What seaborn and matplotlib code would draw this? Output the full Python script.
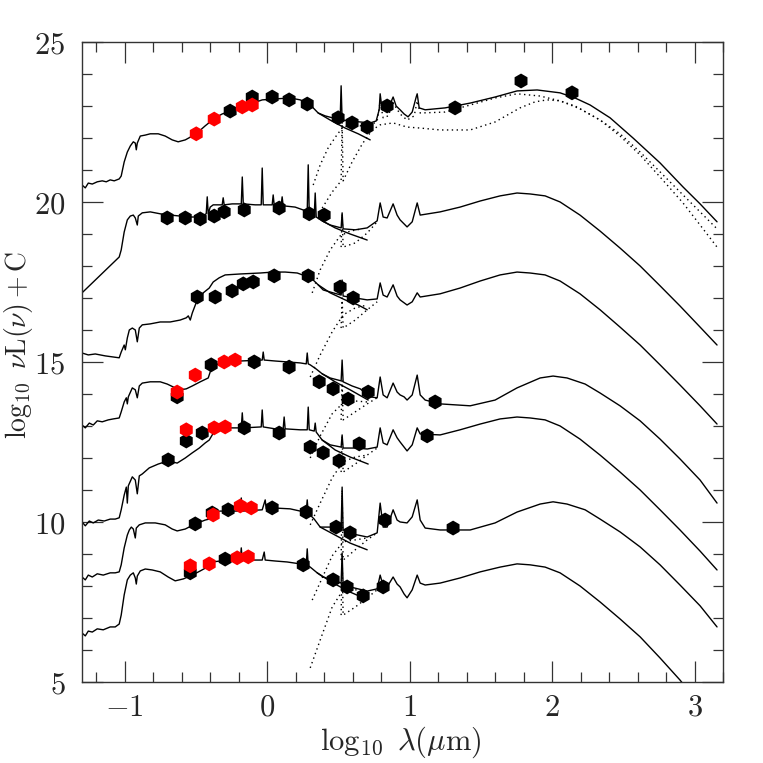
import matplotlib
matplotlib.use('Agg')
import matplotlib.pyplot as plt
from matplotlib.ticker import MultipleLocator
import seaborn as sns

# --- SED A (top) ---
a_lam = [-1.30, -1.277, -1.256, -1.228, -1.193, -1.158, -1.130, -1.102, -1.074, -1.039,
         -1.025, -1.004, -0.982, -0.961, -0.940, -0.926, -0.919, -0.912, -0.891, -0.856,
         -0.821, -0.765, -0.716, -0.667, -0.625, -0.575, -0.526, -0.491, -0.435, -0.365,
         -0.316, -0.260, -0.189, -0.119, -0.035, 0.056, 0.161, 0.232, 0.281, 0.323,
         0.358, 0.407, 0.491, 0.512, 0.519, 0.526, 0.582, 0.653, 0.723, 0.765,
         0.786, 0.793, 0.807, 0.835, 0.863, 0.884, 0.905, 0.933, 0.961, 0.989,
         1.018, 1.046, 1.053, 1.067, 1.109, 1.249, 1.425, 1.600, 1.754, 1.895,
         2.056, 2.161, 2.267, 2.407, 2.568, 2.758, 2.919, 3.039, 3.158]
a_sed = [20.53, 20.44, 20.59, 20.56, 20.63, 20.66, 20.63, 20.69, 20.66, 20.72,
         20.81, 21.25, 21.56, 21.75, 21.88, 21.84, 21.63, 21.84, 22.06, 22.09,
         22.13, 22.13, 22.06, 21.94, 21.88, 21.94, 22.06, 22.16, 22.38, 22.63,
         22.75, 22.84, 22.97, 23.06, 23.19, 23.22, 23.25, 23.19, 23.09, 22.94,
         22.78, 22.69, 22.59, 22.56, 23.63, 22.56, 22.53, 22.50, 22.47, 22.53,
         22.88, 23.38, 22.88, 22.88, 23.06, 23.28, 23.00, 22.88, 22.75, 22.66,
         22.81, 23.28, 23.38, 22.94, 22.88, 22.94, 23.09, 23.28, 23.47, 23.50,
         23.41, 23.25, 23.03, 22.63, 22.00, 21.22, 20.47, 19.94, 19.38]
a_star_lam = [0.358, 0.442, 0.547, 0.639, 0.723]
a_star = [22.78, 22.56, 22.31, 22.13, 21.94]
a_dust1_lam = [0.323, 0.372, 0.428, 0.484, 0.526, 0.582, 0.653, 0.723, 0.772, 0.793,
               0.814, 0.849, 0.884, 0.933, 0.982, 1.032, 1.053, 1.074, 1.249, 1.425,
               1.600, 1.754, 1.916, 2.056, 2.196, 2.337, 2.477, 2.618, 2.758, 2.919,
               3.039, 3.158]
a_dust1 = [20.53, 21.16, 21.69, 22.06, 22.31, 22.41, 22.38, 22.38, 22.53, 23.13,
           22.63, 22.69, 23.09, 22.75, 22.56, 22.69, 23.16, 22.78, 22.81, 23.03,
           23.25, 23.38, 23.31, 23.16, 22.91, 22.56, 22.13, 21.56, 20.94, 20.22,
           19.69, 19.16]
a_dust2_lam = [0.386, 0.456, 0.519, 0.526, 0.533, 0.596, 0.667, 0.737, 0.793, 0.884,
               0.982, 1.074, 1.214, 1.425, 1.600, 1.775, 1.881, 1.965, 2.056, 2.161,
               2.337, 2.477, 2.618, 2.758, 2.919, 3.039, 3.158]
a_dust2 = [19.81, 20.31, 20.66, 22.50, 20.66, 21.25, 21.81, 22.25, 22.41, 22.47,
           22.34, 22.31, 22.25, 22.25, 22.50, 22.94, 23.13, 23.19, 23.16, 23.00,
           22.56, 22.06, 21.47, 20.78, 19.97, 19.28, 18.59]
a_obs_lam = [-0.260, -0.105, 0.035, 0.154, 0.281, 0.498, 0.596, 0.702, 0.842, 1.319, 1.782, 2.140]
a_obs = [22.84, 23.28, 23.28, 23.19, 23.06, 22.63, 22.47, 22.34, 23.00, 22.94, 23.78, 23.41]
a_red_lam = [-0.498, -0.372, -0.175, -0.105]
a_red = [22.13, 22.59, 22.97, 23.03]

# --- SED B ---
b_lam = [-1.300, -1.039, -1.025, -1.004, -0.982, -0.961, -0.940, -0.926, -0.912, -0.905,
         -0.877, -0.821, -0.751, -0.681, -0.611, -0.540, -0.470, -0.428, -0.421, -0.414,
         -0.400, -0.379, -0.316, -0.309, -0.302, -0.246, -0.182, -0.175, -0.168, -0.084,
         -0.042, -0.035, -0.028, 0.035, 0.042, 0.049, 0.098, 0.105, 0.112, 0.196,
         0.253, 0.281, 0.288, 0.295, 0.330, 0.337, 0.344, 0.386, 0.442, 0.519,
         0.526, 0.533, 0.618, 0.702, 0.772, 0.793, 0.814, 0.842, 0.884, 0.912,
         0.933, 0.982, 1.018, 1.053, 1.074, 1.214, 1.354, 1.495, 1.635, 1.754,
         1.846, 1.951, 2.056, 2.196, 2.337, 2.477, 2.618, 2.758, 2.898, 3.039,
         3.158]
b_sed = [17.16, 18.28, 18.50, 19.06, 19.44, 19.56, 19.59, 19.50, 19.28, 19.56,
         19.66, 19.69, 19.63, 19.59, 19.56, 19.53, 19.53, 19.63, 20.16, 19.63,
         19.84, 19.91, 19.91, 20.13, 19.91, 19.94, 19.94, 20.78, 19.94, 19.91,
         19.91, 21.06, 19.91, 19.91, 20.22, 19.91, 19.91, 20.16, 19.88, 19.84,
         19.75, 19.72, 21.16, 19.69, 19.56, 20.28, 19.53, 19.41, 19.28, 19.19,
         19.66, 19.16, 19.13, 19.19, 19.41, 19.97, 19.53, 19.50, 19.94, 19.59,
         19.44, 19.22, 19.38, 19.97, 19.59, 19.69, 19.84, 20.03, 20.19, 20.28,
         20.25, 20.19, 20.00, 19.59, 19.09, 18.56, 18.00, 17.38, 16.75, 16.09,
         15.53]
b_star_lam = [0.386, 0.477, 0.582, 0.702]
b_star = [19.41, 19.19, 19.00, 18.81]
b_dust1_lam = [0.316, 0.372, 0.442, 0.512, 0.582, 0.667]
b_dust1 = [17.16, 17.88, 18.50, 18.94, 19.09, 19.16]
b_dust2_lam = [0.519, 0.526, 0.533, 0.618, 0.702, 0.772]
b_dust2 = [18.59, 19.63, 18.59, 18.72, 19.03, 19.38]
b_obs_lam = [-0.702, -0.575, -0.470, -0.372, -0.302, -0.161, 0.084, 0.295, 0.400]
b_obs = [19.50, 19.50, 19.47, 19.56, 19.69, 19.75, 19.81, 19.63, 19.59]

# --- SED C ---
c_lam = [-1.300, -1.256, -1.207, -1.137, -1.088, -1.039, -1.025, -1.004, -0.996, -0.982,
         -0.968, -0.947, -0.926, -0.912, -0.898, -0.877, -0.821, -0.751, -0.681, -0.611,
         -0.568, -0.554, -0.540, -0.526, -0.491, -0.449, -0.407, -0.379, -0.337, -0.295,
         -0.189, -0.049, 0.042, 0.126, 0.211, 0.267, 0.323, 0.358, 0.393, 0.463,
         0.519, 0.526, 0.533, 0.618, 0.702, 0.772, 0.793, 0.814, 0.842, 0.884,
         0.912, 0.933, 0.982, 1.018, 1.053, 1.074, 1.214, 1.354, 1.495, 1.635,
         1.754, 1.846, 1.951, 2.056, 2.196, 2.337, 2.477, 2.618, 2.758, 2.898,
         3.039, 3.158]
c_sed = [15.28, 15.22, 15.25, 15.19, 15.16, 15.13, 15.31, 15.53, 15.38, 15.75,
         16.00, 16.06, 16.00, 15.63, 16.06, 16.16, 16.19, 16.25, 16.25, 16.31,
         16.38, 16.44, 16.31, 16.53, 16.94, 17.16, 17.31, 17.50, 17.63, 17.72,
         17.75, 17.78, 17.81, 17.81, 17.78, 17.69, 17.56, 17.41, 17.25, 17.16,
         17.09, 17.56, 17.06, 17.00, 16.94, 16.97, 17.47, 17.09, 17.03, 17.41,
         17.06, 16.94, 16.78, 16.88, 17.16, 17.03, 17.13, 17.31, 17.53, 17.72,
         17.81, 17.78, 17.72, 17.53, 17.13, 16.63, 16.09, 15.53, 14.91, 14.28,
         13.63, 13.06]
c_star_lam = [0.358, 0.442, 0.547, 0.639, 0.702]
c_star = [17.41, 17.16, 16.94, 16.78, 16.63]
c_dust1_lam = [0.302, 0.372, 0.456, 0.533, 0.618, 0.702]
c_dust1 = [14.53, 15.22, 15.94, 16.47, 16.69, 16.78]
c_dust2_lam = [0.519, 0.526, 0.533, 0.618, 0.702, 0.772]
c_dust2 = [16.06, 17.00, 16.06, 16.31, 16.63, 16.88]
c_obs_lam = [-0.491, -0.365, -0.246, -0.168, -0.098, 0.049, 0.288, 0.512, 0.604]
c_obs = [17.03, 17.03, 17.22, 17.44, 17.50, 17.69, 17.69, 17.34, 17.00]

# --- SED D ---
d_lam = [-1.300, -1.277, -1.249, -1.221, -1.193, -1.158, -1.116, -1.081, -1.039, -1.025,
         -1.004, -0.989, -0.982, -0.975, -0.947, -0.926, -0.912, -0.898, -0.877, -0.821,
         -0.751, -0.702, -0.646, -0.611, -0.568, -0.526, -0.470, -0.414, -0.400, -0.386,
         -0.344, -0.295, -0.189, -0.035, -0.028, -0.021, 0.056, 0.232, 0.274, 0.281,
         0.288, 0.302, 0.344, 0.386, 0.442, 0.519, 0.526, 0.533, 0.596, 0.653,
         0.723, 0.772, 0.793, 0.814, 0.842, 0.884, 0.912, 0.933, 0.961, 0.982,
         1.018, 1.053, 1.074, 1.109, 1.214, 1.425, 1.600, 1.754, 1.916, 2.007,
         2.105, 2.232, 2.337, 2.477, 2.618, 2.758, 2.898, 3.039, 3.158]
d_sed = [13.03, 12.94, 13.09, 13.03, 13.16, 13.13, 13.19, 13.22, 13.25, 13.44,
         13.75, 13.88, 13.69, 13.91, 14.19, 14.13, 13.88, 14.25, 14.34, 14.38,
         14.38, 14.31, 14.19, 14.13, 14.16, 14.25, 14.38, 14.50, 14.69, 14.84,
         14.94, 15.00, 15.03, 15.06, 15.31, 15.06, 15.03, 14.97, 14.94, 15.28,
         14.94, 14.91, 14.78, 14.63, 14.50, 14.41, 15.06, 14.38, 14.25, 14.16,
         13.91, 13.88, 14.53, 13.97, 13.88, 14.34, 14.06, 13.97, 13.91, 13.81,
         13.97, 14.59, 13.97, 13.81, 13.69, 13.63, 13.81, 14.19, 14.50, 14.56,
         14.50, 14.31, 14.03, 13.63, 13.16, 12.59, 11.97, 11.31, 10.59]
d_star_lam = [0.386, 0.477, 0.582, 0.709]
d_star = [14.63, 14.38, 14.13, 13.81]
d_dust1_lam = [0.302, 0.372, 0.456, 0.533, 0.618, 0.702]
d_dust1 = [12.00, 12.69, 13.38, 13.72, 13.78, 13.75]
d_dust2_lam = [0.519, 0.526, 0.533, 0.618, 0.702, 0.772]
d_dust2 = [13.19, 14.41, 13.19, 13.44, 13.69, 13.88]
d_obs_lam = [-0.632, -0.393, -0.091, 0.154, 0.365, 0.463, 0.568, 0.709, 1.179]
d_obs = [13.91, 14.91, 15.00, 14.84, 14.38, 14.16, 13.84, 14.06, 13.75]
d_red_lam = [-0.632, -0.505, -0.302, -0.225]
d_red = [14.06, 14.59, 15.00, 15.06]

# --- SED E ---
e_lam = [-1.300, -1.277, -1.249, -1.221, -1.186, -1.144, -1.102, -1.067, -1.039, -1.025,
         -1.004, -0.989, -0.982, -0.975, -0.947, -0.926, -0.912, -0.898, -0.877, -0.828,
         -0.765, -0.716, -0.667, -0.632, -0.575, -0.526, -0.477, -0.435, -0.407, -0.386,
         -0.365, -0.295, -0.182, -0.175, -0.168, -0.042, -0.035, -0.028, 0.056, 0.112,
         0.119, 0.126, 0.232, 0.281, 0.288, 0.295, 0.330, 0.337, 0.344, 0.386,
         0.442, 0.519, 0.526, 0.533, 0.632, 0.702, 0.772, 0.793, 0.814, 0.842,
         0.884, 0.912, 0.933, 0.961, 0.982, 1.018, 1.053, 1.074, 1.214, 1.354,
         1.495, 1.635, 1.754, 1.846, 1.951, 2.056, 2.196, 2.337, 2.477, 2.618,
         2.758, 2.898, 3.039, 3.158]
e_sed = [10.00, 9.88, 10.03, 9.97, 10.06, 10.03, 10.09, 10.09, 10.13, 10.38,
         10.84, 11.09, 10.59, 11.13, 11.41, 11.31, 10.88, 11.44, 11.50, 11.69,
         11.81, 11.88, 11.88, 11.84, 12.00, 12.16, 12.31, 12.47, 12.56, 12.72,
         12.88, 12.94, 12.94, 13.41, 12.94, 12.97, 13.50, 12.97, 12.91, 12.91,
         13.28, 12.91, 12.88, 12.88, 13.59, 12.88, 12.84, 13.09, 12.81, 12.56,
         12.41, 12.34, 12.72, 12.31, 12.31, 12.28, 12.34, 12.94, 12.47, 12.41,
         12.88, 12.63, 12.50, 12.34, 12.22, 12.41, 12.94, 12.75, 12.72, 12.88,
         13.06, 13.22, 13.28, 13.25, 13.19, 13.00, 12.59, 12.09, 11.56, 11.00,
         10.38, 9.75, 9.09, 8.50]
e_star_lam = [0.386, 0.477, 0.582, 0.709]
e_star = [12.56, 12.25, 12.03, 11.81]
e_dust1_lam = [0.302, 0.372, 0.456, 0.533, 0.618, 0.702]
e_dust1 = [9.91, 10.59, 11.38, 11.88, 12.03, 12.09]
e_dust2_lam = [0.519, 0.526, 0.533, 0.618, 0.702, 0.772]
e_dust2 = [11.56, 12.69, 11.56, 11.81, 12.09, 12.31]
e_obs_lam = [-0.695, -0.568, -0.456, -0.161, 0.084, 0.302, 0.393, 0.505, 0.646, 1.123]
e_obs = [11.94, 12.53, 12.78, 12.94, 12.78, 12.34, 12.16, 11.91, 12.44, 12.69]
e_red_lam = [-0.568, -0.372, -0.295]
e_red = [12.88, 12.94, 12.97]

# --- SED F ---
f_lam = [-1.300, -1.277, -1.256, -1.228, -1.193, -1.151, -1.102, -1.067, -1.039, -1.025,
         -1.004, -0.982, -0.968, -0.954, -0.940, -0.926, -0.919, -0.898, -0.856, -0.786,
         -0.716, -0.667, -0.632, -0.575, -0.505, -0.435, -0.407, -0.386, -0.330, -0.246,
         -0.189, -0.182, -0.175, -0.035, -0.014, -0.007, 0.035, 0.161, 0.232, 0.274,
         0.281, 0.288, 0.330, 0.372, 0.442, 0.519, 0.526, 0.533, 0.596, 0.702,
         0.772, 0.793, 0.814, 0.842, 0.884, 0.912, 0.933, 0.982, 1.018, 1.053,
         1.074, 1.109, 1.214, 1.425, 1.600, 1.754, 1.916, 2.007, 2.105, 2.232,
         2.337, 2.477, 2.618, 2.758, 2.898, 3.039, 3.158]
f_sed = [8.28, 8.19, 8.34, 8.28, 8.38, 8.34, 8.41, 8.41, 8.44, 8.66,
         9.19, 9.59, 9.75, 9.84, 9.78, 9.50, 9.81, 9.91, 9.97, 9.97,
         9.91, 9.78, 9.72, 9.78, 9.94, 10.06, 10.09, 10.31, 10.34, 10.34,
         10.34, 10.75, 10.34, 10.38, 10.69, 10.41, 10.44, 10.41, 10.34, 10.31,
         10.69, 10.28, 10.09, 9.84, 9.84, 9.78, 11.09, 9.75, 9.63, 9.53,
         9.66, 10.59, 9.84, 9.84, 10.38, 10.06, 10.00, 9.97, 10.16, 10.69,
         10.06, 9.81, 9.75, 9.75, 9.97, 10.31, 10.56, 10.63, 10.56, 10.38,
         10.09, 9.69, 9.22, 8.66, 8.03, 7.38, 6.72]
f_star_lam = [0.372, 0.477, 0.582, 0.702]
f_star = [9.84, 9.59, 9.34, 9.13]
f_dust1_lam = [0.316, 0.386, 0.456, 0.533, 0.618, 0.702]
f_dust1 = [7.56, 8.25, 8.94, 9.38, 9.44, 9.50]
f_dust2_lam = [0.519, 0.526, 0.533, 0.618, 0.702, 0.772]
f_dust2 = [8.81, 11.00, 8.81, 9.13, 9.44, 9.66]
f_obs_lam = [-0.505, -0.386, -0.274, 0.035, 0.274, 0.484, 0.582, 0.828, 1.305]
f_obs = [9.94, 10.28, 10.38, 10.44, 10.31, 9.84, 9.66, 10.06, 9.81]
f_red_lam = [-0.379, -0.189, -0.112]
f_red = [10.22, 10.50, 10.44]

# --- SED G (bottom) ---
g_lam = [-1.300, -1.277, -1.256, -1.228, -1.193, -1.151, -1.102, -1.067, -1.039, -1.025,
         -1.004, -0.982, -0.961, -0.940, -0.926, -0.919, -0.912, -0.891, -0.856, -0.807,
         -0.751, -0.695, -0.646, -0.589, -0.526, -0.470, -0.421, -0.407, -0.386, -0.330,
         -0.189, -0.182, -0.175, -0.035, -0.021, -0.014, 0.056, 0.140, 0.232, 0.274,
         0.281, 0.288, 0.302, 0.351, 0.393, 0.463, 0.519, 0.526, 0.533, 0.582,
         0.702, 0.772, 0.793, 0.814, 0.842, 0.884, 0.912, 0.933, 0.961, 0.982,
         1.018, 1.053, 1.074, 1.109, 1.214, 1.354, 1.495, 1.635, 1.754, 1.846,
         1.951, 2.056, 2.196, 2.337, 2.477, 2.618, 2.758, 2.898, 3.039, 3.158]
g_sed = [6.53, 6.44, 6.59, 6.56, 6.66, 6.63, 6.72, 6.72, 6.81, 7.09,
         7.72, 8.19, 8.34, 8.41, 8.25, 8.06, 8.31, 8.47, 8.53, 8.50,
         8.44, 8.28, 8.16, 8.22, 8.34, 8.47, 8.59, 8.66, 8.75, 8.78,
         8.81, 9.19, 8.81, 8.81, 9.06, 8.81, 8.78, 8.75, 8.69, 8.66,
         9.16, 8.63, 8.59, 8.41, 8.28, 8.19, 8.09, 9.03, 8.03, 7.97,
         7.84, 7.91, 8.34, 8.00, 7.97, 8.28, 8.06, 7.97, 7.75, 7.63,
         7.88, 8.34, 8.09, 8.03, 8.09, 8.25, 8.44, 8.59, 8.69, 8.66,
         8.59, 8.41, 8.00, 7.50, 6.97, 6.41, 5.75, 5.06, 4.28, 3.63]
g_star_lam = [0.351, 0.463, 0.582, 0.674]
g_star = [8.41, 8.09, 7.81, 7.63]
g_dust1_lam = [0.302, 0.372, 0.456, 0.533, 0.618, 0.702]
g_dust1 = [5.44, 6.31, 7.34, 7.88, 7.88, 7.84]
g_dust2_lam = [0.519, 0.526, 0.533, 0.618, 0.702, 0.772]
g_dust2 = [7.09, 8.97, 7.09, 7.34, 7.63, 7.88]
g_obs_lam = [-0.540, -0.295, 0.253, 0.463, 0.561, 0.674, 0.814]
g_obs = [8.41, 8.84, 8.66, 8.19, 7.97, 7.69, 7.97]
g_red_lam = [-0.540, -0.407, -0.211, -0.133]
g_red = [8.63, 8.69, 8.88, 8.91]

x_ticks = [-1, 0, 1, 2, 3]
x_ticklabels = [r'$-1$', r'$0$', r'$1$', r'$2$', r'$3$']
y_ticks = [5, 10, 15, 20, 25]
y_ticklabels = [r'$5$', r'$10$', r'$15$', r'$20$', r'$25$']

sns.set_style('ticks')
plt.rcParams['font.family'] = ['DejaVu Serif']
plt.rcParams['mathtext.fontset'] = 'cm'

fig = plt.figure(figsize=(7.63, 7.63), dpi=100)
ax = fig.add_axes([0.1075, 0.1062, 0.8401, 0.8388])

solid_lines = [(a_lam, a_sed), (a_star_lam, a_star),
               (b_lam, b_sed), (b_star_lam, b_star),
               (c_lam, c_sed), (c_star_lam, c_star),
               (d_lam, d_sed), (d_star_lam, d_star),
               (e_lam, e_sed), (e_star_lam, e_star),
               (f_lam, f_sed), (f_star_lam, f_star),
               (g_lam, g_sed), (g_star_lam, g_star)]
for lam, sed in solid_lines:
    sns.lineplot(x=lam, y=sed, ax=ax, color='black', lw=1.0,
                 sort=False, estimator=None)

dotted_lines = [(a_dust1_lam, a_dust1), (a_dust2_lam, a_dust2),
                (b_dust1_lam, b_dust1), (b_dust2_lam, b_dust2),
                (c_dust1_lam, c_dust1), (c_dust2_lam, c_dust2),
                (d_dust1_lam, d_dust1), (d_dust2_lam, d_dust2),
                (e_dust1_lam, e_dust1), (e_dust2_lam, e_dust2),
                (f_dust1_lam, f_dust1), (f_dust2_lam, f_dust2),
                (g_dust1_lam, g_dust1), (g_dust2_lam, g_dust2)]
for lam, sed in dotted_lines:
    sns.lineplot(x=lam, y=sed, ax=ax, color='black', lw=1.0,
                 linestyle=(0, (1, 2.5)), sort=False, estimator=None)

# photometry: black first, red on top
for lam, sed in [(a_obs_lam, a_obs), (b_obs_lam, b_obs), (c_obs_lam, c_obs),
                 (d_obs_lam, d_obs), (e_obs_lam, e_obs), (f_obs_lam, f_obs),
                 (g_obs_lam, g_obs)]:
    sns.scatterplot(x=lam, y=sed, ax=ax, marker='h', s=115, color='black',
                    edgecolor='none', zorder=3)
for lam, sed in [(a_red_lam, a_red), (d_red_lam, d_red), (e_red_lam, e_red),
                 (f_red_lam, f_red), (g_red_lam, g_red)]:
    sns.scatterplot(x=lam, y=sed, ax=ax, marker='h', s=115, color='#ff0000',
                    edgecolor='none', zorder=4)

ax.set_xlim(-1.3, 3.2)
ax.set_ylim(5, 25)
ax.set_xticks(x_ticks)
ax.set_xticklabels(x_ticklabels)
ax.set_yticks(y_ticks)
ax.set_yticklabels(y_ticklabels)
ax.xaxis.set_minor_locator(MultipleLocator(0.2))
ax.yaxis.set_minor_locator(MultipleLocator(1))
ax.tick_params(which='both', direction='in', top=True, right=True,
               width=0.9, color='#333333')
ax.tick_params(which='major', length=15, labelsize=22)
ax.tick_params(which='minor', length=7.5)
ax.tick_params(axis='x', pad=7)
ax.tick_params(axis='y', pad=12)
for sp in ax.spines.values():
    sp.set_linewidth(1.0)
    sp.set_color('#333333')

ax.set_xlabel(r'$\log_{10}\ \lambda(\mu{\rm m})$', fontsize=22)
ax.set_ylabel(r'$\log_{10}\ \nu{\rm L}(\nu){\rm +C}$', fontsize=20)
ax.xaxis.set_label_coords(0.498, -0.066)
ax.yaxis.set_label_coords(-0.073, 0.527)

fig.savefig('out.png', dpi=100)
